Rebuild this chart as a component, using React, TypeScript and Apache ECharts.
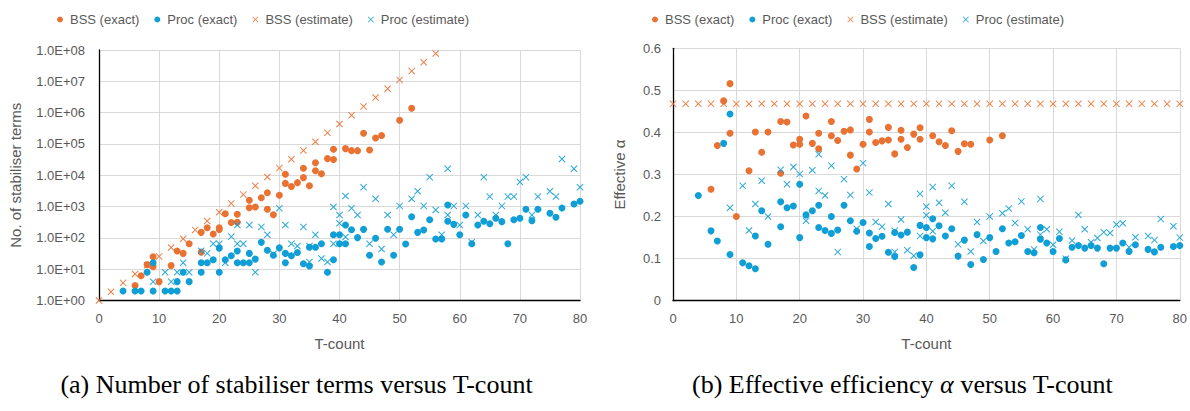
import React, { useEffect, useRef } from "react";
import * as echarts from "echarts";

// ---------- Left chart: number of stabiliser terms ----------
const bssExactTerms: [number, number][] = [
  [6, 3], [7, 6.2], [8, 14], [9, 25], [9, 12], [10, 4], [12, 13], [13, 38], [14, 32], [15, 65],
  [17, 35], [17, 150], [18, 210], [19, 133], [20, 185], [20, 210], [21, 590], [22, 308], [23, 570],
  [23, 316], [25, 1590], [25, 920], [26, 970], [27, 1920], [28, 2770], [28, 820], [29, 550],
  [30, 2300], [31, 10700], [31, 5500], [32, 4350], [33, 5800], [34, 16700], [34, 8400], [35, 4650],
  [36, 25000], [36, 14000], [37, 11200], [38, 34000], [39, 68000], [39, 32000], [41, 71000],
  [42, 61000], [43, 61000], [44, 220000], [45, 64000], [46, 155000], [47, 185000], [50, 570000],
  [52, 1380000],
];
const procExactTerms: [number, number][] = [
  [4, 2], [6, 2], [7, 2], [8, 8], [9, 2], [9, 16], [11, 2], [12, 2], [13, 2], [13, 4], [14, 8],
  [15, 4], [17, 8], [17, 16], [18, 16], [19, 20], [20, 47], [20, 8], [21, 20], [22, 27], [23, 38],
  [23, 16], [24, 16], [25, 16], [25, 32], [26, 21], [27, 72], [28, 40], [29, 28], [30, 48], [31, 32],
  [31, 16], [32, 27], [33, 34], [34, 15], [35, 12.6], [35, 50], [36, 50], [37, 65], [38, 8], [39, 20],
  [39, 126], [40, 126], [40, 65], [41, 257], [41, 65], [42, 182], [43, 102], [44, 187], [45, 28],
  [46, 97], [47, 17], [48, 188], [49, 28], [50, 188], [51, 64], [52, 475], [53, 150], [54, 178],
  [55, 380], [56, 92], [57, 92], [58, 1120], [58, 340], [59, 270], [60, 126], [61, 540], [62, 65],
  [63, 257], [64, 340], [65, 283], [66, 425], [67, 330], [68, 65], [69, 380], [70, 425], [71, 820],
  [72, 355], [73, 820], [75, 610], [76, 455], [77, 900], [79, 1200], [80, 1480],
];
const bssEstimateTerms: [number, number][] = [
  [0, 1], [2, 1.91], [4, 3.66], [6, 7.0], [8, 13.4], [10, 25.6], [12, 49.1], [14, 93.9], [16, 180],
  [18, 344], [20, 658], [22, 1260], [24, 2410], [26, 4610], [28, 8820], [30, 16900], [32, 32300],
  [34, 61800], [36, 118000], [38, 226000], [40, 433000], [42, 828000], [44, 1580000], [46, 3030000],
  [48, 5800000], [50, 11100000], [52, 21200000], [54, 40600000], [56, 77700000],
];
const procEstimateTerms: [number, number][] = [
  [9, 4], [11, 8], [12, 4], [13, 8], [14, 16], [15, 8], [17, 39], [18, 32], [19, 65], [20, 65],
  [21, 16], [22, 110], [23, 65], [23, 257], [24, 65], [25, 257], [26, 8], [27, 224], [28, 126],
  [29, 31], [30, 890], [31, 257], [32, 65], [33, 55], [34, 224], [35, 17], [35, 55], [36, 126],
  [37, 22], [38, 17], [39, 970], [39, 65], [40, 540], [40, 293], [41, 2180], [41, 107], [42, 890],
  [43, 540], [44, 4160], [45, 65], [46, 1780], [47, 44], [48, 540], [49, 126], [50, 1050],
  [52, 1780], [53, 3100], [54, 1050], [55, 8700], [56, 780], [57, 126], [58, 16200], [58, 540],
  [59, 1050], [60, 257], [61, 1050], [62, 73], [63, 540], [64, 8700], [65, 2080], [66, 540],
  [67, 1050], [68, 2080], [69, 2080], [70, 6100], [71, 8700], [72, 540], [73, 2080], [75, 3100],
  [76, 2080], [77, 33000], [79, 16200], [80, 4160],
];

// ---------- Right chart: effective alpha ----------
const bssExactAlpha: [number, number][] = [
  [6, 0.265], [7, 0.369], [8, 0.475], [9, 0.516], [9, 0.398], [10, 0.2], [12, 0.309], [13, 0.401],
  [14, 0.353], [15, 0.401], [17, 0.426], [17, 0.303], [18, 0.425], [19, 0.37], [20, 0.384],
  [20, 0.372], [21, 0.439], [22, 0.374], [23, 0.398], [23, 0.361], [25, 0.426], [25, 0.392],
  [26, 0.381], [27, 0.403], [28, 0.406], [28, 0.346], [29, 0.313], [30, 0.372], [31, 0.431],
  [31, 0.401], [32, 0.376], [33, 0.38], [34, 0.412], [34, 0.382], [35, 0.349], [36, 0.405],
  [36, 0.384], [37, 0.364], [38, 0.396], [39, 0.411], [39, 0.384], [41, 0.392], [42, 0.378],
  [43, 0.369], [44, 0.404], [45, 0.355], [46, 0.373], [47, 0.372], [50, 0.382], [52, 0.392],
];
const procExactAlpha: [number, number][] = [
  [4, 0.25], [6, 0.166], [7, 0.142], [8, 0.374], [9, 0.444], [9, 0.11], [11, 0.09], [12, 0.083],
  [13, 0.076], [13, 0.154], [14, 0.214], [15, 0.134], [17, 0.235], [17, 0.176], [18, 0.221],
  [19, 0.225], [20, 0.277], [20, 0.15], [21, 0.204], [22, 0.214], [23, 0.227], [23, 0.174],
  [24, 0.167], [25, 0.16], [25, 0.2], [26, 0.168], [27, 0.227], [28, 0.19], [29, 0.165], [30, 0.186],
  [31, 0.161], [31, 0.129], [32, 0.148], [33, 0.153], [34, 0.115], [35, 0.105], [35, 0.162],
  [36, 0.156], [37, 0.163], [38, 0.079], [39, 0.109], [39, 0.179], [40, 0.174], [40, 0.15],
  [41, 0.195], [41, 0.147], [42, 0.178], [43, 0.154], [44, 0.171], [45, 0.106], [46, 0.144],
  [47, 0.086], [48, 0.157], [49, 0.098], [50, 0.15], [51, 0.117], [52, 0.171], [53, 0.137],
  [54, 0.14], [55, 0.155], [56, 0.117], [57, 0.114], [58, 0.174], [58, 0.146], [59, 0.137],
  [60, 0.117], [61, 0.148], [62, 0.097], [63, 0.127], [64, 0.131], [65, 0.125], [66, 0.131],
  [67, 0.125], [68, 0.088], [69, 0.125], [70, 0.125], [71, 0.137], [72, 0.117], [73, 0.133],
  [75, 0.122], [76, 0.116], [77, 0.127], [79, 0.129], [80, 0.131],
];
const bssEstimateAlpha: [number, number][] = [
  [0, 0.468], [2, 0.468], [4, 0.468], [6, 0.468], [8, 0.468], [10, 0.468], [12, 0.468],
  [14, 0.468], [16, 0.468], [18, 0.468], [20, 0.468], [22, 0.468], [24, 0.468], [26, 0.468],
  [28, 0.468], [30, 0.468], [32, 0.468], [34, 0.468], [36, 0.468], [38, 0.468], [40, 0.468],
  [42, 0.468], [44, 0.468], [46, 0.468], [48, 0.468], [50, 0.468], [52, 0.468], [54, 0.468],
  [56, 0.468], [58, 0.468], [60, 0.468], [62, 0.468], [64, 0.468], [66, 0.468], [68, 0.468],
  [70, 0.468], [72, 0.468], [74, 0.468], [76, 0.468], [78, 0.468], [80, 0.468],
];
const procEstimateAlpha: [number, number][] = [
  [9, 0.221], [11, 0.273], [12, 0.167], [13, 0.23], [14, 0.285], [15, 0.2], [17, 0.311], [18, 0.277],
  [19, 0.318], [20, 0.301], [21, 0.19], [22, 0.31], [23, 0.261], [23, 0.348], [24, 0.25], [25, 0.321],
  [26, 0.116], [27, 0.289], [28, 0.251], [29, 0.171], [30, 0.327], [31, 0.257], [32, 0.187],
  [33, 0.176], [34, 0.23], [35, 0.116], [35, 0.166], [36, 0.193], [37, 0.12], [38, 0.107],
  [39, 0.254], [39, 0.154], [40, 0.224], [40, 0.203], [41, 0.27], [41, 0.165], [42, 0.233],
  [43, 0.209], [44, 0.273], [45, 0.134], [46, 0.235], [47, 0.117], [48, 0.187], [49, 0.142],
  [50, 0.2], [52, 0.208], [53, 0.219], [54, 0.185], [55, 0.236], [56, 0.17], [57, 0.122],
  [58, 0.242], [58, 0.157], [59, 0.17], [60, 0.133], [61, 0.164], [62, 0.1], [63, 0.143],
  [64, 0.204], [65, 0.17], [66, 0.139], [67, 0.149], [68, 0.163], [69, 0.161], [70, 0.181],
  [71, 0.184], [72, 0.127], [73, 0.151], [75, 0.154], [76, 0.144], [77, 0.194], [79, 0.177],
  [80, 0.15],
];

const seriesNames = ["BSS (exact)", "Proc (exact)", "BSS (estimate)", "Proc (estimate)"];
const xTickMax = 80;
const alphaTickMax = 0.6;
const captionA = "(a) Number of stabiliser terms versus T-count";
const captionB = ["(b) Effective efficiency ", "α", " versus T-count"];

const ORANGE = "#E97132";
const BLUE = "#0F9ED5";
const GRID = "#D9D9D9";
const TEXT = "#595959";
const SANS = "'Liberation Sans', Arial, sans-serif";
const SERIF = "'Liberation Serif', 'Times New Roman', serif";
const CROSS = "path://M0,1L1,0L5,4L9,0L10,1L6,5L10,9L9,10L5,6L1,10L0,9L4,5Z";

function App() {
  const ref = useRef<HTMLDivElement>(null);
  useEffect(() => {
    if (!ref.current) return;
    const chart = echarts.init(ref.current, null, { renderer: "svg" });

    const xAxisBase = (gridIndex: number) => ({
      type: "value",
      gridIndex,
      min: 0,
      max: xTickMax,
      interval: 10,
      name: "T-count",
      nameLocation: "middle",
      nameGap: 35,
      nameTextStyle: { fontSize: 15, color: TEXT, fontFamily: SANS },
      axisLine: { show: true, lineStyle: { color: "#000", width: 1.3 } },
      axisTick: { show: false },
      axisLabel: { fontSize: 13, color: TEXT, fontFamily: SANS, margin: 11 },
      splitLine: { show: true, lineStyle: { color: GRID, width: 1 } },
    });

    const mk = (
      name: string,
      data: [number, number][],
      idx: number,
      color: string,
      est: boolean
    ) => ({
      name,
      type: "scatter",
      xAxisIndex: idx,
      yAxisIndex: idx,
      data,
      symbol: est ? CROSS : "circle",
      symbolSize: est ? 7 : 7,
      itemStyle: { color, opacity: est ? 0.9 : 1 },
      z: est ? 3 : 2,
    });

    const legendBase = (left: number) => ({
      left,
      top: 8,
      itemWidth: 10,
      itemHeight: 6,
      itemGap: 15,
      textStyle: { fontSize: 13, color: TEXT, fontFamily: SANS },
      data: seriesNames,
    });

    chart.setOption({
      animation: false,
      backgroundColor: "#fff",
      legend: [legendBase(52), legendBase(647)],
      grid: [
        { left: 99, top: 50, width: 481, height: 250.5 },
        { left: 673, top: 48.3, width: 512, height: 252.4 },
      ],
      xAxis: [xAxisBase(0), xAxisBase(1)],
      yAxis: [
        {
          type: "log",
          gridIndex: 0,
          logBase: 10,
          min: 1,
          max: 1e8,
          name: "No. of stabiliser terms",
          nameLocation: "middle",
          nameGap: 76,
          nameTextStyle: { fontSize: 15, color: TEXT, fontFamily: SANS },
          axisLine: { show: true, lineStyle: { color: "#000", width: 1.3 } },
          axisTick: { show: false },
          axisLabel: {
            fontSize: 13,
            color: TEXT,
            fontFamily: SANS,
            margin: 14,
            formatter: (v: number) => {
              const e = Math.round(Math.log10(v));
              return "1.0E+" + String(e).padStart(2, "0");
            },
          },
          splitLine: { show: true, lineStyle: { color: GRID, width: 1 } },
        },
        {
          type: "value",
          gridIndex: 1,
          min: 0,
          max: alphaTickMax,
          interval: 0.1,
          name: "Effective α",
          nameLocation: "middle",
          nameGap: 46,
          nameTextStyle: { fontSize: 15, color: TEXT, fontFamily: SANS },
          axisLine: { show: true, lineStyle: { color: "#000", width: 1.3 } },
          axisTick: { show: false },
          axisLabel: { fontSize: 13, color: TEXT, fontFamily: SANS, margin: 12 },
          splitLine: { show: true, lineStyle: { color: GRID, width: 1 } },
        },
      ],
      series: [
        mk(seriesNames[0], bssExactTerms, 0, ORANGE, false),
        mk(seriesNames[1], procExactTerms, 0, BLUE, false),
        mk(seriesNames[2], bssEstimateTerms, 0, ORANGE, true),
        mk(seriesNames[3], procEstimateTerms, 0, BLUE, true),
        mk(seriesNames[0], bssExactAlpha, 1, ORANGE, false),
        mk(seriesNames[1], procExactAlpha, 1, BLUE, false),
        mk(seriesNames[2], bssEstimateAlpha, 1, ORANGE, true),
        mk(seriesNames[3], procEstimateAlpha, 1, BLUE, true),
      ],
      graphic: [
        {
          type: "text",
          x: 296.5,
          y: 384,
          style: {
            text: captionA,
            font: `26px ${SERIF}`,
            fill: "#000",
            textAlign: "center",
            textVerticalAlign: "middle",
          },
        },
        {
          type: "text",
          x: 902.5,
          y: 384,
          style: {
            text: `{n|${captionB[0]}}{a|${captionB[1]}}{n|${captionB[2]}}`,
            textAlign: "center",
            textVerticalAlign: "middle",
            fill: "#000",
            rich: {
              n: { fontSize: 26, fontFamily: SERIF, fill: "#000" },
              a: { fontSize: 26, fontFamily: SERIF, fontStyle: "italic", fill: "#000" },
            },
          },
        },
      ],
    });
    return () => chart.dispose();
  }, []);
  return (
    <div
      ref={ref}
      style={{ position: "fixed", left: 0, top: 0, width: 1190, height: 411, background: "#fff" }}
    />
  );
}

export default App;
